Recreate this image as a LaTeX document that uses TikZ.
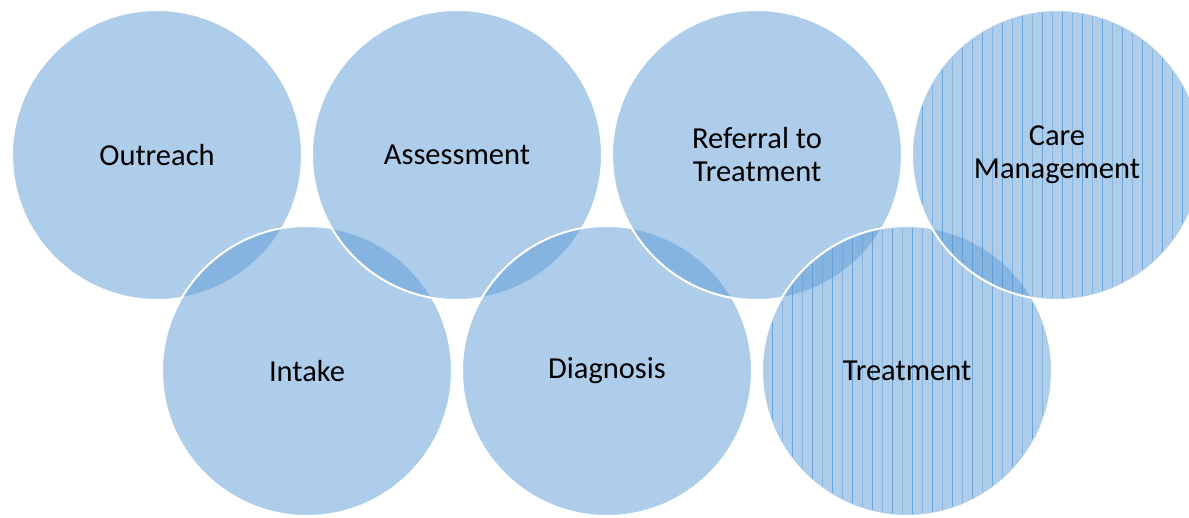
\documentclass[tikz,border=0pt]{standalone}
\usepackage{fontspec}
\setmainfont{Carlito}
\usetikzlibrary{calc, positioning}

\definecolor{ringblue}{HTML}{5B9BD5}

\tikzset{
  bubble/.style={circle, minimum size=290pt, inner sep=0pt,
    fill=ringblue, fill opacity=0.5, draw=white, draw opacity=1,
    line width=2pt, text opacity=1, align=center,
    font=\fontsize{30.5}{33}\selectfont},
  stripe/.style={ringblue, line width=1pt, draw opacity=0.8},
  faintstripe/.style={ringblue, line width=1pt, draw opacity=0.45},
  caption/.style={align=center, font=\fontsize{30.5}{33}\selectfont}
}

% vertical line fill inside a circle of radius 144 round #1
\newcommand{\stripefill}[1]{%
  \begin{scope}
    \clip (#1) circle (143pt);
    \foreach \i in {-15,...,14} {
      \pgfmathtruncatemacro{\odd}{mod(\i+20,2)}
      \ifnum\odd=0
        \draw[stripe] ($(#1)+(\i*10+5,-150)$) -- ++(0,300);
      \else
        \draw[faintstripe] ($(#1)+(\i*10+5,-150)$) -- ++(0,300);
      \fi
    }
  \end{scope}}

\begin{document}
\begin{tikzpicture}[x=1pt, y=-1pt]
\def\rowtop{155}
\def\rowlow{371}

\clip (0,0) rectangle (1189,517);

% zigzag: top, bottom, top, ...
\node[bubble] (outreach) at (157,\rowtop) {Outreach};
\node[bubble] (intake) at (307,\rowlow) {Intake};
\node[bubble] (assess) at (457,\rowtop) {Assessment};
\node[bubble] (diag) at (607,\rowlow) {Diagnosis};
\node[bubble] (referral) at (757,\rowtop) {Referral to\\Treatment};

\node[bubble] (treat) at (907,\rowlow) {};
\stripefill{treat}
\node[caption] (treatText) at (treat) {Treatment};

\node[bubble] (care) at (1057,\rowtop) {};
\stripefill{care}
\node[caption] (careText) at (care) {Care\\Management};
\end{tikzpicture}
\end{document}
